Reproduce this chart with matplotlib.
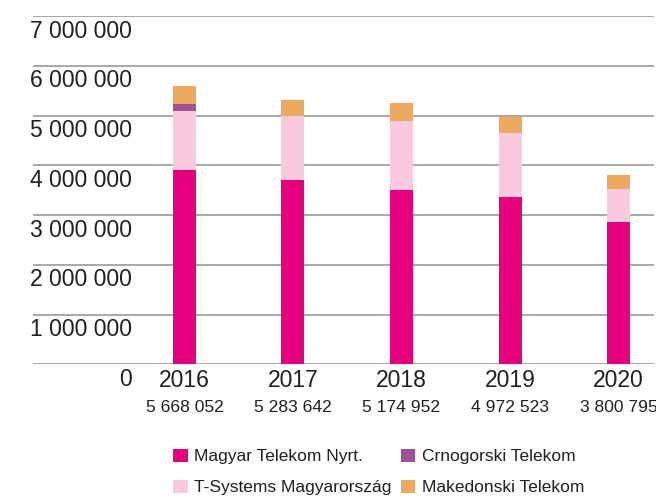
import matplotlib

matplotlib.use("Agg")
import matplotlib.pyplot as plt
from matplotlib.transforms import blended_transform_factory, offset_copy

plt.rcParams["font.family"] = ["Liberation Sans", "DejaVu Sans"]

# adatok (millió helyett darabszám)
years = ["2016", "2017", "2018", "2019", "2020"]
totals = ["5 668 052", "5 283 642", "5 174 952", "4 972 523", "3 800 795"]
magyar = [3_905_000, 3_700_000, 3_500_000, 3_370_000, 2_860_000]
tsystems = [1_185_000, 1_290_000, 1_390_000, 1_280_000, 660_000]
crnogorski = [140_000, 0, 0, 0, 0]
makedonski = [365_000, 320_000, 360_000, 320_000, 280_000]
series_names = ["Magyar Telekom Nyrt.", "T-Systems Magyarország", "Crnogorski Telekom", "Makedonski Telekom"]
yticks = [0, 1_000_000, 2_000_000, 3_000_000, 4_000_000, 5_000_000, 6_000_000, 7_000_000]

COLORS = ["#E6007E", "#F8C9DF", "#A14F97", "#EDAA5F"]
TEXT = "#231f20"
GRID = "#9a9a9a"

fig = plt.figure(figsize=(6.56, 4.97), dpi=100)
ax = fig.add_axes((33 / 656, 1 - 364.3 / 497, 621 / 656, 348.3 / 497))

x = list(range(len(years)))
width = 0.212
bottom = [0] * len(years)
handles = []
for vals, color, name in zip([magyar, tsystems, crnogorski, makedonski], COLORS, series_names):
    h = ax.bar(x, vals, width=width, bottom=bottom, color=color, linewidth=0, label=name, zorder=3)
    handles.append(h)
    bottom = [b + v for b, v in zip(bottom, vals)]

ax.set_xlim(-1.396, 4.327)
ax.set_ylim(0, 7_000_000)
for spine in ax.spines.values():
    spine.set_visible(False)
ax.set_xticks([])
ax.set_yticks([])
for t in yticks:
    ax.axhline(t, color=GRID, linewidth=1.2, zorder=1)

# y feliratok a rácsvonalak alatt
ytrans = offset_copy(blended_transform_factory(ax.transAxes, ax.transData), fig=fig, y=-15.5, units="points")
for t in yticks:
    label = f"{t:,}".replace(",", " ")
    ax.text(0.159, t, label, transform=ytrans, ha="right", va="baseline", fontsize=16.5, color=TEXT)

xtrans = blended_transform_factory(ax.transData, ax.transAxes)
year_trans = offset_copy(xtrans, fig=fig, y=-16.1, units="points")
total_trans = offset_copy(xtrans, fig=fig, y=-34.6, units="points")
for xi, yr, tot in zip(x, years, totals):
    ax.text(xi, 0, yr, transform=year_trans, ha="center", va="baseline", fontsize=16.5, color=TEXT)
    ax.text(xi, 0, tot, transform=total_trans, ha="center", va="baseline", fontsize=12.6, color=TEXT)

fig.legend(
    handles,
    series_names,
    ncol=2,
    loc="center left",
    bbox_to_anchor=(157 / 656, 1 - 472 / 497),
    frameon=False,
    fontsize=12.5,
    handlelength=0.86,
    handleheight=0.8,
    handletextpad=0.35,
    labelspacing=0.9,
    columnspacing=0.55,
    labelcolor=TEXT,
)

fig.savefig("out.png", dpi=100)
